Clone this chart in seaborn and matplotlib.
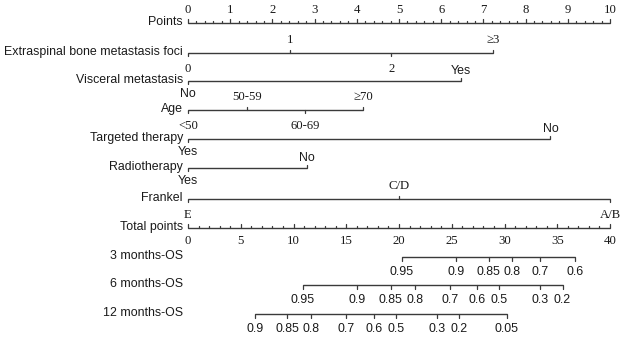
import numpy as np
import matplotlib.pyplot as plt
import seaborn as sns

# nomogram values (points scale 0-10, total points 0-40)
points_ticks = list(range(0, 11))
total_ticks = list(range(0, 41, 5))

extra_labels = ["0", "1", "2", "\u22653"]
extra_pts = [0, 2.42, 4.82, 7.23]
visc_labels = ["No", "Yes"]
visc_pts = [0, 6.47]
age_labels = ["<50", "50-59", "60-69", "\u226570"]
age_pts = [0, 1.39, 2.77, 4.15]
target_labels = ["Yes", "No"]
target_pts = [0, 8.59]
radio_labels = ["Yes", "No"]
radio_pts = [0, 2.81]
frankel_labels = ["E", "C/D", "A/B"]
frankel_pts = [0, 5.0, 10]

os3_labels = ["0.95", "0.9", "0.85", "0.8", "0.7", "0.6"]
os3_total = [20.25, 25.4, 28.5, 30.7, 33.4, 36.7]
os6_labels = ["0.95", "0.9", "0.85", "0.8", "0.7", "0.6", "0.5", "0.3", "0.2"]
os6_total = [10.9, 16.0, 19.2, 21.5, 24.8, 27.4, 29.5, 33.4, 35.5]
os12_labels = ["0.9", "0.85", "0.8", "0.7", "0.6", "0.5", "0.3", "0.2", "0.05"]
os12_total = [6.35, 9.4, 11.7, 15.0, 17.6, 19.7, 23.6, 25.7, 30.2]

sns.set_style("white")
SANS = ["Liberation Sans", "DejaVu Sans"]
SERIF = ["Liberation Serif", "DejaVu Serif"]
LC = "#3a3a3a"
TC = "#1a1a1a"
FS_ROW = 8.9
FS_SERIF = 9.2
FS_SANS = 8.9

fig = plt.figure(figsize=(6.24, 3.41), dpi=100)
ax = fig.add_axes([0, 0, 1, 1])
PX = 42.2  # pixels per point
X0 = 188
ax.set_xlim(-X0 / PX, (624 - X0) / PX)
ax.set_ylim(341, 0)
ax.axis("off")

rows = {
    "Points": 23, "Extraspinal bone metastasis foci": 53, "Visceral metastasis": 81,
    "Age": 110, "Targeted therapy": 139, "Radiotherapy": 168, "Frankel": 199,
    "Total points": 228, "3 months-OS": 257, "6 months-OS": 285, "12 months-OS": 314,
}
label_x = -5 / PX
for name, y in rows.items():
    ax.text(label_x, y - 1, name, ha="right", va="center", fontsize=FS_ROW,
            family=SANS, color=TC)


def line(x, y):
    ax.plot([min(x), max(x)], [y, y], color=LC, lw=1.0, solid_capstyle="butt")


# Points axis
y = rows["Points"]
line([0, 10], y)
for v in np.arange(0, 10.01, 0.2):
    major = abs(v - round(v)) < 1e-6
    ax.plot([v, v], [y, y - (4 if major else 2.5)], color=LC, lw=0.9)
for v in points_ticks:
    ax.text(v, y - 7, str(v), ha="center", va="bottom", fontsize=FS_SERIF, family=SERIF, color=TC)

# categorical rows
cat_rows = [
    ("Extraspinal bone metastasis foci", extra_labels, extra_pts, SERIF),
    ("Visceral metastasis", visc_labels, visc_pts, SANS),
    ("Age", age_labels, age_pts, SERIF),
    ("Targeted therapy", target_labels, target_pts, SANS),
    ("Radiotherapy", radio_labels, radio_pts, SANS),
    ("Frankel", frankel_labels, frankel_pts, SERIF),
]
for name, labs, pts, fam in cat_rows:
    y = rows[name]
    line(pts, y)
    serif = fam is SERIF
    fs = FS_SERIF if serif else FS_SANS
    for i, (lab, p) in enumerate(zip(labs, pts)):
        if i % 2 == 0:
            ax.plot([p, p], [y, y + 3], color=LC, lw=0.9)
            ax.text(p, y + (10 if serif else 7), lab, ha="center", va="top",
                    fontsize=fs, family=fam, color=TC)
        else:
            ax.plot([p, p], [y, y - 3], color=LC, lw=0.9)
            ax.text(p, y - (7 if serif else 4), lab, ha="center", va="bottom",
                    fontsize=fs, family=fam, color=TC)

# Total points axis
y = rows["Total points"]
line([0, 10], y)
for t in range(0, 41):
    ax.plot([t / 4, t / 4], [y, y - (4 if t % 5 == 0 else 2.5)], color=LC, lw=0.9)
for t in total_ticks:
    ax.text(t / 4, y + 7, str(t), ha="center", va="top", fontsize=FS_SERIF, family=SERIF, color=TC)

# survival scales
for name, labs, tot in [("3 months-OS", os3_labels, os3_total),
                        ("6 months-OS", os6_labels, os6_total),
                        ("12 months-OS", os12_labels, os12_total)]:
    y = rows[name]
    xs = [t / 4 for t in tot]
    line(xs, y)
    for lab, xv in zip(labs, xs):
        ax.plot([xv, xv], [y, y + 4], color=LC, lw=0.9)
        ax.text(xv, y + 9, lab, ha="center", va="top", fontsize=FS_SANS, family=SANS, color=TC)

fig.savefig("out.png", dpi=100)
